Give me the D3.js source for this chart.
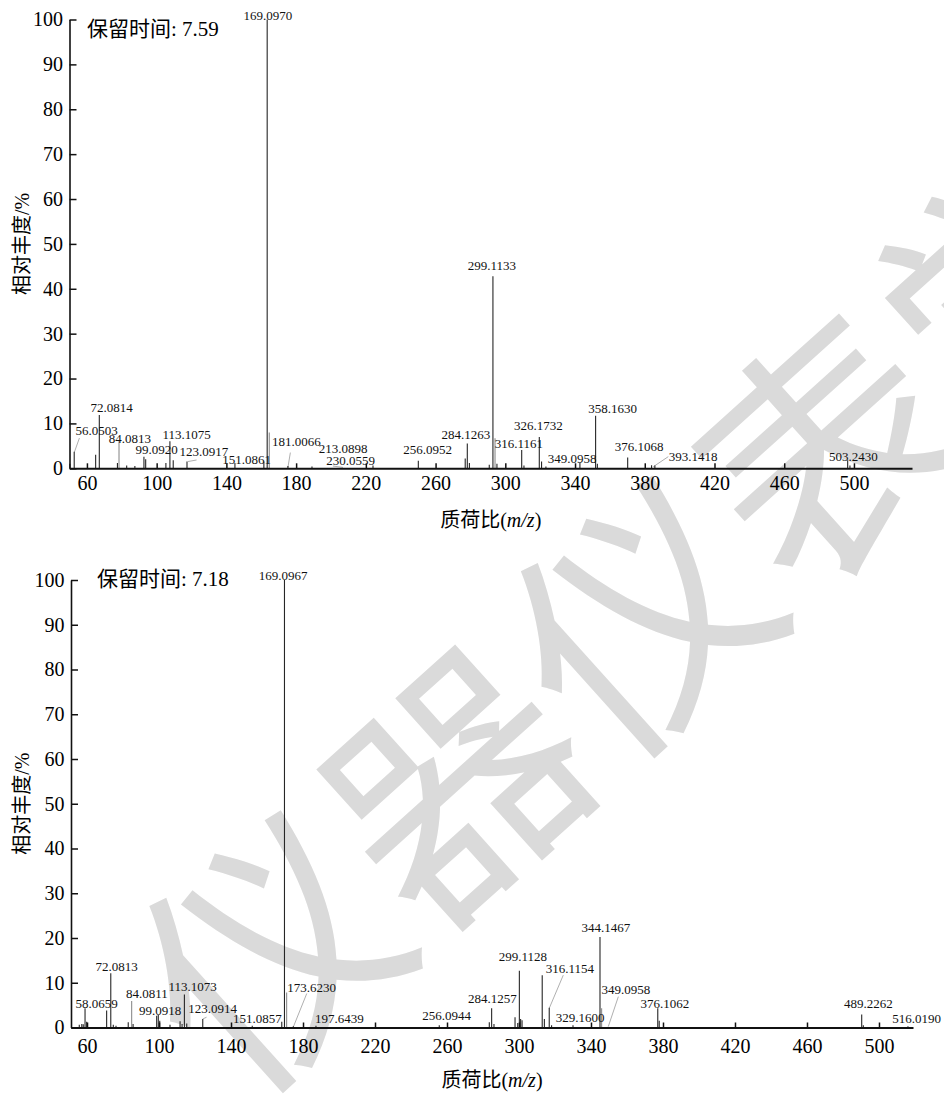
<!DOCTYPE html>
<html><head><meta charset="utf-8">
<script src="https://cdn.jsdelivr.net/npm/d3@7/dist/d3.min.js"></script>
<style>
body{margin:0;background:#fff}
svg text{font-family:"Liberation Serif","Times New Roman","Noto Sans CJK SC",serif}
</style></head><body>
<svg id="c" width="944" height="1094"></svg>
<script>
// ---------- shared ----------
const xTicks = [60,100,140,180,220,260,300,340,380,420,460,500];
const yTicks = [0,10,20,30,40,50,60,70,80,90,100];
const yLabel = "相对丰度/%";
const xLabelMain = "质荷比(";
const xLabelItalic = "m/z";
const xLabelEnd = ")";
const watermark = "仪器仪表学报";

// ---------- top spectrum (retention 7.59) ----------
const topTitle = "保留时间: 7.59";
const topPeakMz  = [50.2,52.7,65.0,67.1,77.5,82.8,87.5,92.7,93.7,105.3,107.6,109.5,117.4,144.9,161.5,163.4,175.3,189.1,224.1,250.1,277.0,278.2,279.4,290.8,292.9,295.2,309.4,310.7,319.5,320.8,323.3,342.8,351.8,352.8,370.2,383.9,385.8,496.4,497.7];
const topPeakInt = [1.0,3.7,3.0,11.9,1.2,0.6,0.5,2.6,2.0,1.2,6.0,1.8,1.5,1.2,1.5,100,0.5,0.4,0.6,1.7,2.2,5.5,1.2,0.8,42.8,1.0,4.1,0.6,7.0,1.5,0.4,1.3,11.7,1.0,2.4,0.7,0.6,1.8,0.6];
const topGreyMz  = [78.4,164.6,294.1];
const topGreyInt = [6.0,8.0,6.7];
const topLabelText = ["169.0970","299.1133","72.0814","56.0503","84.0813","113.1075","99.0920","123.0917","151.0861","181.0066","213.0898","230.0559","256.0952","284.1263","316.1161","326.1732","358.1630","349.0958","376.1068","393.1418","503.2430"];
const topLabelMz   = [163.8,292.3,74.1,65.6,84.7,117.2,100.0,127.1,151.6,180.1,207.0,211.3,255.4,277.4,307.8,318.9,361.6,338.4,376.7,407.8,499.6];
const topLabelInt  = [101.0,45.1,13.5,8.5,6.7,7.6,4.3,3.7,2.0,5.9,4.4,1.8,4.2,7.6,5.5,9.6,13.4,2.2,4.8,2.7,2.7];
const topLeaderFromMz  = [55.7,122.9,176.7,201.1,393.5];
const topLeaderFromInt = [6.75,1.85,3.5,0.5,2.6];
const topLeaderToMz    = [52.8,117.9,175.3,206.9,384.9];
const topLeaderToInt   = [3.6,1.5,0.2,0.2,0.35];

// ---------- bottom spectrum (retention 7.18) ----------
const botTitle = "保留时间: 7.18";
const botPeakMz  = [55.7,57.1,57.9,58.9,59.8,70.9,73.2,74.6,76.1,82.9,85.6,98.7,99.6,100.4,106.1,111.7,112.8,114.1,115.4,124.3,151.8,168.2,169.7,174.6,187.2,255.7,283.5,284.8,286.1,297.8,299.3,300.2,300.9,301.7,312.9,314.1,316.8,318.1,330.0,345.0,377.1,377.9,490.4,491.3,516.1];
const botPeakInt = [0.6,0.8,0.7,4.3,1.3,3.8,12.1,0.6,0.4,1.2,0.8,2.6,2.8,1.5,0.6,1.4,0.8,7.4,0.9,1.9,0.4,1.3,100,0.3,0.4,0.5,1.2,4.3,0.8,2.3,1.0,12.7,1.9,1.6,11.7,1.9,4.4,0.5,0.5,20.2,4.3,1.5,2.9,0.5,0.3];
const botGreyMz  = [84.8,170.9,345.9];
const botGreyInt = [5.9,7.8,4.3];
const botLabelText = ["169.0967","72.0813","58.0659","84.0811","99.0918","113.1073","123.0914","151.0857","173.6230","197.6439","256.0944","284.1257","299.1128","316.1154","329.1600","344.1467","349.0958","376.1062","489.2262","516.0190"];
const botLabelMz   = [169.0,76.5,65.4,93.2,100.6,118.7,129.8,154.6,184.8,200.2,259.8,285.2,302.1,328.3,333.9,348.3,359.4,381.1,494.1,520.9];
const botLabelInt  = [101.1,13.6,5.4,7.5,3.75,9.1,4.3,2.05,9.0,2.05,2.8,6.4,15.8,13.2,2.2,22.4,8.5,5.4,5.4,2.05];
const botLeaderFromMz  = [182.1,324.6,355.2,124.3];
const botLeaderFromInt = [7.6,11.7,6.9,1.9];
const botLeaderToMz    = [174.6,316.8,349.6,126.4];
const botLeaderToInt   = [0.1,4.3,0.2,2.3];

// ---------- drawing ----------
const svg = d3.select("#c");

// watermark (behind the charts)
svg.append("text")
  .attr("transform","translate(274,957) rotate(-42)")
  .attr("x",-125)
  .attr("dy","0.35em")
  .style("font-family","'Noto Sans CJK SC'")
  .attr("font-size",250)
  .attr("fill","#dadada")
  .text(watermark);

function panel(p){
  const x = d3.scaleLinear().domain(p.xDomain).range(p.xRange);
  const y = d3.scaleLinear().domain([0,100]).range(p.yRange);
  const g = svg.append("g");

  g.selectAll(".ld").data(d3.range(p.lfm.length)).join("line")
    .attr("x1",i=>x(p.lfm[i])).attr("y1",i=>y(p.lfi[i]))
    .attr("x2",i=>x(p.ltm[i])).attr("y2",i=>y(p.lti[i]))
    .attr("stroke","#9a9a9a").attr("stroke-width",0.8);

  g.selectAll(".gp").data(d3.zip(p.gm,p.gi)).join("line")
    .attr("x1",d=>x(d[0])).attr("x2",d=>x(d[0]))
    .attr("y1",y(0)).attr("y2",d=>y(d[1]))
    .attr("stroke","#8c8c8c").attr("stroke-width",1.1);

  g.selectAll(".pk").data(d3.zip(p.pm,p.pi)).join("line")
    .attr("x1",d=>x(d[0])).attr("x2",d=>x(d[0]))
    .attr("y1",y(0)).attr("y2",d=>y(d[1]))
    .attr("stroke","#262626").attr("stroke-width",1.1);

  g.selectAll(".lb").data(d3.range(p.lt.length)).join("text")
    .attr("x",i=>x(p.lm[i])).attr("y",i=>y(p.li[i]))
    .attr("dy","0.35em").attr("text-anchor","middle")
    .attr("font-size",13).attr("fill","#111")
    .text(i=>p.lt[i]);

  const ax = g.append("g").attr("transform",`translate(0,${y(0)})`)
    .call(d3.axisBottom(x).tickValues(xTicks).tickSizeInner(-5).tickSizeOuter(0).tickPadding(p.xPad).tickFormat(d3.format("d")));
  ax.attr("font-family",null).attr("font-size",null);
  ax.select(".domain").attr("stroke","#111").attr("stroke-width",2);
  ax.selectAll(".tick line").attr("stroke","#111").attr("stroke-width",1.5);
  ax.selectAll(".tick text").attr("font-size",20).attr("fill","#000");

  const ay = g.append("g").attr("transform",`translate(${p.xRange[0]},0)`)
    .call(d3.axisLeft(y).tickValues(yTicks).tickSizeInner(-7).tickSizeOuter(0).tickPadding(6.5).tickFormat(d3.format("d")));
  ay.attr("font-family",null).attr("font-size",null);
  ay.select(".domain").attr("stroke","#111").attr("stroke-width",1.6);
  ay.selectAll(".tick line").attr("stroke","#111").attr("stroke-width",1.5);
  ay.selectAll(".tick text").attr("font-size",20).attr("fill","#000");

  g.append("text").attr("x",p.titleX).attr("y",y(p.titleV)).attr("dy","0.35em")
    .attr("font-size",21).attr("fill","#000").text(p.title);

  const ym = (p.yRange[0]+p.yRange[1])/2;
  g.append("text").attr("transform",`translate(22,${ym}) rotate(-90)`)
    .attr("text-anchor","middle").attr("dy","0.35em")
    .attr("font-size",20).attr("fill","#000").text(yLabel);

  const xm = (p.xRange[0]+p.xRange[1])/2;
  const xl = g.append("text").attr("x",xm).attr("y",p.xLabelY).attr("dy","0.35em")
    .attr("text-anchor","middle").attr("font-size",20).attr("fill","#000");
  xl.append("tspan").text(xLabelMain);
  xl.append("tspan").attr("font-style","italic").text(xLabelItalic);
  xl.append("tspan").text(xLabelEnd);
}

panel({
  xDomain:[50.0,533.3], xRange:[69.5,912], yRange:[468.3,19.5], xPad:8,
  pm:topPeakMz, pi:topPeakInt, gm:topGreyMz, gi:topGreyInt,
  lt:topLabelText, lm:topLabelMz, li:topLabelInt,
  lfm:topLeaderFromMz, lfi:topLeaderFromInt, ltm:topLeaderToMz, lti:topLeaderToInt,
  title:topTitle, titleX:87, titleV:98.0, xLabelY:520
});
panel({
  xDomain:[51.1,518.9], xRange:[71,913], yRange:[1027.5,580], xPad:11.5,
  pm:botPeakMz, pi:botPeakInt, gm:botGreyMz, gi:botGreyInt,
  lt:botLabelText, lm:botLabelMz, li:botLabelInt,
  lfm:botLeaderFromMz, lfi:botLeaderFromInt, ltm:botLeaderToMz, lti:botLeaderToInt,
  title:botTitle, titleX:97, titleV:100.2, xLabelY:1080
});
</script>
</body></html>
